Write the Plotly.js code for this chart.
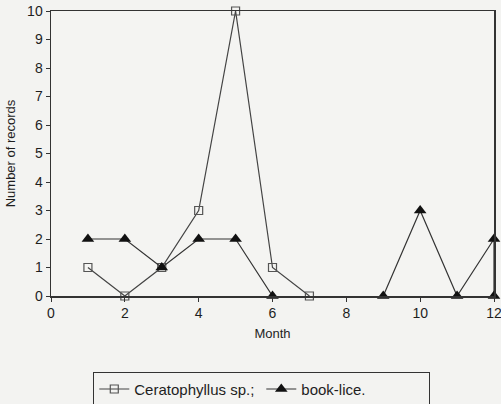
<!DOCTYPE html>
<html>
<head>
<meta charset="utf-8">
<script src="https://cdn.plot.ly/plotly-3.0.1.min.js"></script>
<style>
  html, body { margin: 0; padding: 0; background: #f3f3f1; }
  #chart { width: 501px; height: 404px; }
</style>
</head>
<body>
<div id="chart"></div>
<script>
// Monthly record counts
const months = [1, 2, 3, 4, 5, 6, 7, 8, 9, 10, 11, 12, 12];
const ceratophyllus = [1, 0, 1, 3, 10, 1, 0, null, null, null, null, null, null];
const bookLice = [2, 2, 1, 2, 2, 0, null, null, 0, 3, 0, 2, 0];
const xTicks = [0, 2, 4, 6, 8, 10, 12];
const yTicks = [0, 1, 2, 3, 4, 5, 6, 7, 8, 9, 10];

const ink = '#1e1e1e';

const traces = [
  {
    x: months, y: ceratophyllus, name: 'Ceratophyllus sp.;',
    type: 'scatter', mode: 'lines+markers', connectgaps: false,
    line: { color: '#444', width: 1.2 },
    marker: { symbol: 'square-open', size: 8, color: '#555', line: { width: 1.2 } },
    cliponaxis: false
  },
  {
    x: months, y: bookLice, name: 'book-lice.',
    type: 'scatter', mode: 'lines+markers', connectgaps: false,
    line: { color: '#333', width: 1.2 },
    marker: { symbol: 'triangle-up', size: 11, color: '#111' },
    cliponaxis: false
  }
];

const font = { family: 'Liberation Sans, Arial, sans-serif', color: ink };

const layout = {
  width: 501, height: 404,
  margin: { l: 51, r: 7, t: 11, b: 108, autoexpand: false },
  paper_bgcolor: '#f3f3f1',
  plot_bgcolor: '#f4f4f2',
  font: font,
  showlegend: true,
  xaxis: {
    range: [0, 12], tickvals: xTicks, ticktext: xTicks.map(String),
    automargin: false,
    showgrid: false, zeroline: false,
    showline: true, linecolor: '#333', linewidth: 1.5, mirror: true,
    ticks: 'outside', ticklen: 4, tickcolor: '#333',
    ticklabeloverflow: 'allow',
    tickfont: { size: 14, family: font.family, color: ink },
    title: { text: 'Month', font: { size: 13, family: font.family, color: ink }, standoff: 8 }
  },
  yaxis: {
    range: [0, 10], tickvals: yTicks, ticktext: yTicks.map(String),
    automargin: false,
    showgrid: false, zeroline: false,
    showline: true, linecolor: '#333', linewidth: 1.5, mirror: true,
    ticks: 'outside', ticklen: 4, tickcolor: '#333',
    tickfont: { size: 14, family: font.family, color: ink },
    title: { text: 'Number of records', font: { size: 13, family: font.family, color: ink }, standoff: 8 }
  },
  legend: {
    orientation: 'h',
    x: 0.095, xanchor: 'left',
    y: -0.265, yanchor: 'top',
    bgcolor: 'rgba(0,0,0,0)',
    bordercolor: '#333', borderwidth: 1.2,
    font: { size: 15, family: font.family, color: ink },
    itemwidth: 30,
    entrywidth: 122, entrywidthmode: 'pixels'
  }
};

Plotly.newPlot('chart', traces, layout, { displayModeBar: false, staticPlot: true });
</script>
</body>
</html>
